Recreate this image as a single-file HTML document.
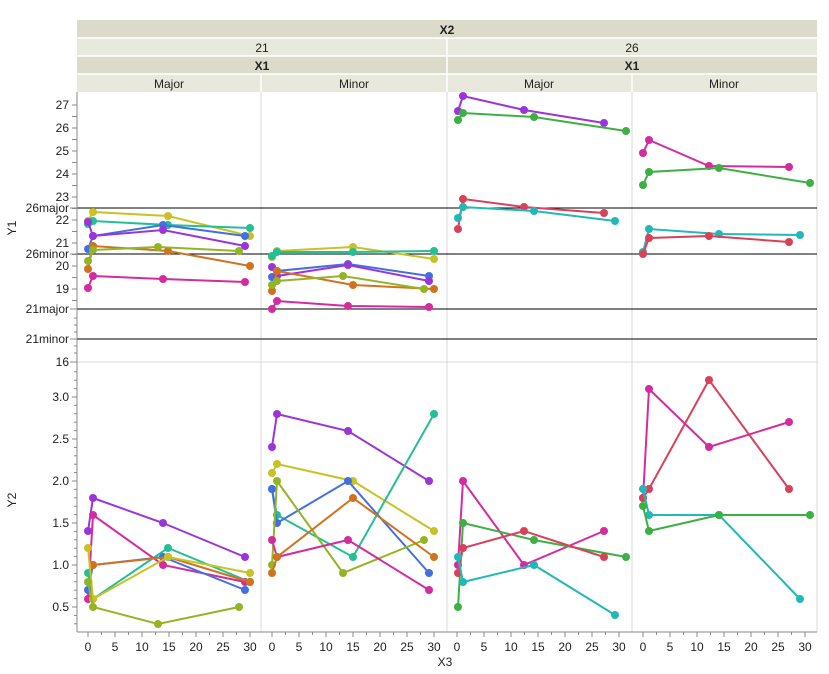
<!DOCTYPE html><html><head><style>body{margin:0;background:#fff}svg{display:block;font-family:"Liberation Sans",sans-serif}</style></head><body>
<svg id="s" width="829" height="674" xmlns="http://www.w3.org/2000/svg">
<rect x="77" y="20" width="740" height="18" fill="#dcdacb"/>
<rect x="77" y="38" width="740" height="18" fill="#e8e8dc"/>
<rect x="77" y="56" width="740" height="18" fill="#dcdacb"/>
<rect x="77" y="74" width="740" height="18" fill="#e8e8dc"/>
<g stroke="#fff" stroke-width="1.5"><line x1="447" y1="38" x2="447" y2="92"/><line x1="261" y1="74" x2="261" y2="92"/><line x1="632" y1="74" x2="632" y2="92"/><line x1="77" y1="38" x2="817" y2="38"/><line x1="77" y1="56" x2="817" y2="56"/><line x1="77" y1="74" x2="817" y2="74"/></g>
<g font-size="12" text-anchor="middle" fill="#222">
<text x="447" y="34" font-weight="bold">X2</text>
<text x="262" y="52">21</text><text x="632" y="52">26</text>
<text x="262" y="70" font-weight="bold">X1</text><text x="632" y="70" font-weight="bold">X1</text>
<text x="169" y="88">Major</text><text x="354" y="88">Minor</text><text x="539" y="88">Major</text><text x="724" y="88">Minor</text>
</g>
<g stroke="#d8d8d8"><line x1="261" y1="92" x2="261" y2="632"/><line x1="447" y1="92" x2="447" y2="632"/><line x1="632" y1="92" x2="632" y2="632"/><line x1="77" y1="362" x2="817" y2="362"/><line x1="817" y1="92" x2="817" y2="632"/></g>
<g stroke="#000" stroke-width="1"><line x1="77" y1="208" x2="817" y2="208"/><line x1="77" y1="254" x2="817" y2="254"/><line x1="77" y1="309" x2="817" y2="309"/><line x1="77" y1="339" x2="817" y2="339"/></g>
<g id="ax" stroke="#888" fill="none"><line x1="77" y1="92" x2="77" y2="632"/><line x1="77" y1="632" x2="817" y2="632"/></g>
<g id="lab" font-size="12" fill="#222"></g>
<g id="data" stroke-width="2" fill="none"></g>
</svg>
<script>
const S="http://www.w3.org/2000/svg",ax=document.getElementById('ax'),lab=document.getElementById('lab'),dg=document.getElementById('data');
function el(p,t,a,txt){const e=document.createElementNS(S,t);for(const k in a)e.setAttribute(k,a[k]);if(txt!==undefined)e.textContent=txt;p.appendChild(e);return e;}
function tk(x1,y1,x2,y2){el(ax,'line',{x1,y1,x2,y2});}
for(let v=18.5;v<=27.5;v+=0.5){const y=105+(27-v)*23;if(y<94)continue;tk(72,y,77,y);if(Number.isInteger(v)&&v>=19)el(lab,'text',{x:69,y:y+4,'text-anchor':'end'},v);}
for(let y=318;y<=358;y+=7)tk(74,y,77,y);
[["26major",208],["26minor",254],["21major",309],["21minor",339]].forEach(a=>{tk(70,a[1],77,a[1]);el(lab,'text',{x:69,y:a[1]+4,'text-anchor':'end'},a[0]);});
tk(70,362,77,362);el(lab,'text',{x:69,y:366,'text-anchor':'end'},'16');
for(let v=0.3;v<=3.35;v+=0.1){const y=397+(3-v)*84;const m=Math.abs(v*2-Math.round(v*2))<0.01;tk(m?72:74,y,77,y);if(m)el(lab,'text',{x:69,y:y+4,'text-anchor':'end'},v.toFixed(1));}
[88,272,457,643].forEach(x0=>{for(let v=0;v<=30;v+=2.5){const x=x0+v*5.4;const m=v%5==0;tk(x,632,x,m?637:635);if(m)el(lab,'text',{x:x,y:651,'text-anchor':'middle'},v);}});
el(lab,'text',{x:445,y:666,'text-anchor':'middle'},'X3');
el(lab,'text',{x:16,y:228,'text-anchor':'middle',transform:'rotate(-90 16 228)'},'Y1');
el(lab,'text',{x:16,y:500,'text-anchor':'middle',transform:'rotate(-90 16 500)'},'Y2');
const C={pu:'#9b35d9',mg:'#d42ba0',tg:'#25bf95',bl:'#4370e0',or:'#d2721e',ol:'#93b523',ye:'#c9c224',gr:'#3cb043',rd:'#d9405a',te:'#22b8b8'};
const D=[
['ye',[[88,221],[93,212],[168,216],[250,236]]],['tg',[[88,224],[93,221],[168,225],[250,228]]],['bl',[[88,249],[93,236],[163,225],[245,236]]],['pu',[[88,222],[93,236],[163,230],[245,246]]],['or',[[88,269],[93,246],[168,251],[250,266]]],['ol',[[88,261],[93,250],[158,247],[239,251]]],['mg',[[88,288],[93,276],[163,279],[245,282]]],
['ye',[[272,257],[277,251],[353,247],[434,259]]],['tg',[[272,256],[277,252],[353,252],[434,251]]],['bl',[[272,277],[277,271],[348,264],[429,276]]],['pu',[[272,267],[277,276],[348,265],[429,281]]],['or',[[272,291],[277,271],[353,285],[434,289]]],['ol',[[272,285],[277,281],[343,276],[424,289]]],['mg',[[272,309],[277,301],[348,306],[429,307]]],
['pu',[[458,111],[463,96],[524,110],[604,123]]],['gr',[[458,120],[463,113],[534,117],[626,131]]],['rd',[[458,229],[463,199],[524,207],[604,213]]],['te',[[458,218],[463,207],[534,211],[615,221]]],
['mg',[[643,153],[649,140],[709,166],[789,167]]],['gr',[[643,185],[649,172],[719,168],[810,183]]],['te',[[643,252],[649,229],[719,234],[800,235]]],['rd',[[643,254],[649,238],[709,236],[789,242]]],
['pu',[[88,531],[93,498],[163,523],[245,557]]],['mg',[[88,599],[93,515],[163,565],[245,582]]],['tg',[[88,573],[93,599],[168,548],[250,582]]],['bl',[[88,590],[93,565],[163,557],[245,590]]],['or',[[93,565],[168,557],[250,582]]],['ye',[[88,548],[93,599],[168,557],[250,573]]],['ol',[[88,582],[93,607],[158,624],[239,607]]],
['pu',[[272,447],[277,414],[348,431],[429,481]]],['ye',[[272,473],[277,464],[353,481],[434,531]]],['tg',[[272,489],[277,515],[353,557],[434,414]]],['bl',[[272,489],[277,523],[348,481],[429,573]]],['ol',[[272,565],[277,481],[343,573],[424,540]]],['mg',[[272,540],[277,557],[348,540],[429,590]]],['or',[[272,573],[277,557],[353,498],[434,557]]],
['mg',[[458,565],[463,481],[524,565],[604,531]]],['gr',[[458,607],[463,523],[534,540],[626,557]]],['rd',[[458,573],[463,548],[524,531],[604,557]]],['te',[[458,557],[463,582],[534,565],[615,615]]],
['mg',[[643,498],[649,389],[709,447],[789,422]]],['rd',[[643,498],[649,489],[709,380],[789,489]]],['te',[[643,489],[649,515],[719,515],[800,599]]],['gr',[[643,506],[649,531],[719,515],[810,515]]]
];
D.forEach(([c,p])=>{el(dg,'polyline',{points:p.map(q=>q.join(',')).join(' '),stroke:C[c]});p.forEach(q=>el(dg,'circle',{cx:q[0],cy:q[1],r:4,fill:C[c],stroke:'none'}));});
</script>
</body></html>
